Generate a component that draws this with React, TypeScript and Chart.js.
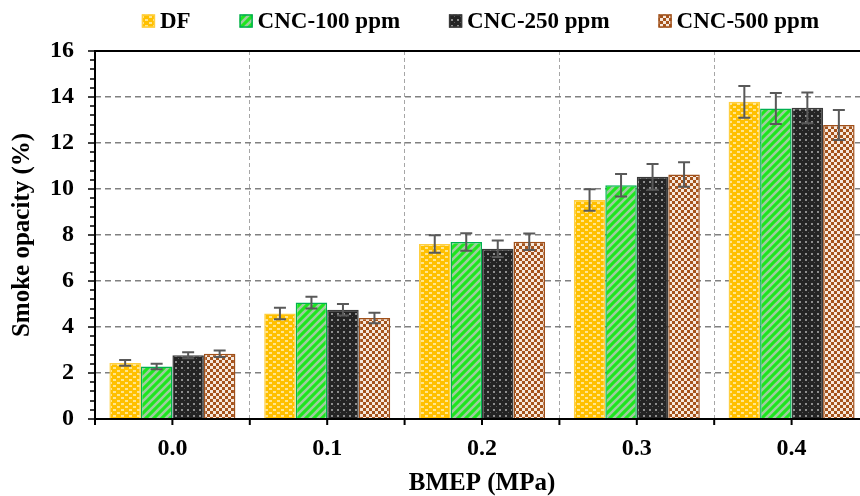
import React, { useEffect, useRef } from "react";
import { Chart, registerables } from "chart.js";

Chart.register(...registerables);

// BMEP load points (MPa)
const categories = ["0.0", "0.1", "0.2", "0.3", "0.4"];
const seriesNames = ["DF", "CNC-100 ppm", "CNC-250 ppm", "CNC-500 ppm"];

// Smoke opacity (%) and its spread for each fuel blend
const dfValues = [2.44, 4.59, 7.61, 9.52, 13.79];
const dfErrors = [0.13, 0.25, 0.38, 0.47, 0.69];
const cnc100Values = [2.28, 5.06, 7.7, 10.16, 13.5];
const cnc100Errors = [0.12, 0.26, 0.38, 0.49, 0.67];
const cnc250Values = [2.77, 4.75, 7.4, 10.53, 13.53];
const cnc250Errors = [0.13, 0.25, 0.36, 0.56, 0.67];
const cnc500Values = [2.84, 4.39, 7.71, 10.63, 12.78];
const cnc500Errors = [0.14, 0.23, 0.36, 0.53, 0.65];

const yMin = 0;
const yMax = 16;
const yStep = 2;
const yMinorStep = 0.4;

const FONT = '"Liberation Serif", "Times New Roman", serif';

type PatternKind = "dots" | "stripes" | "grid" | "checker";

function makePattern(kind: PatternKind): CanvasPattern | string {
  const c = document.createElement("canvas");
  const g = c.getContext("2d");
  if (!g) return "#888";
  if (kind === "dots") {
    c.width = 8;
    c.height = 6;
    g.fillStyle = "#FFC000";
    g.fillRect(0, 0, 8, 6);
    g.fillStyle = "#FFE58F";
    g.fillRect(1, 1, 3, 2);
    g.fillRect(5, 4, 3, 2);
  } else if (kind === "stripes") {
    c.width = 8;
    c.height = 8;
    g.fillStyle = "#1EE61E";
    g.fillRect(0, 0, 8, 8);
    g.strokeStyle = "#9FCC9F";
    g.lineWidth = 2.6;
    g.beginPath();
    g.moveTo(-2, 10);
    g.lineTo(10, -2);
    g.moveTo(-6, 6);
    g.lineTo(6, -6);
    g.moveTo(2, 14);
    g.lineTo(14, 2);
    g.stroke();
  } else if (kind === "grid") {
    c.width = 6;
    c.height = 6;
    g.fillStyle = "#242424";
    g.fillRect(0, 0, 6, 6);
    g.fillStyle = "#8E8E8E";
    g.fillRect(1, 1, 2, 2);
    g.fillStyle = "#5A5A5A";
    g.fillRect(4, 4, 1, 1);
  } else {
    c.width = 6;
    c.height = 6;
    g.fillStyle = "#A5531C";
    g.fillRect(0, 0, 6, 6);
    g.fillStyle = "#F6E8DC";
    g.fillRect(0, 0, 3, 3);
    g.fillRect(3, 3, 3, 3);
  }
  return g.createPattern(c, "repeat") || "#888";
}

const seriesValues = [dfValues, cnc100Values, cnc250Values, cnc500Values];
const seriesErrors = [dfErrors, cnc100Errors, cnc250Errors, cnc500Errors];
const seriesPatterns: PatternKind[] = ["dots", "stripes", "grid", "checker"];
const seriesBorders = ["#FFCF40", "#00B050", "#3A3A3A", "#A0501A"];

export default function App() {
  const canvasRef = useRef<HTMLCanvasElement | null>(null);

  useEffect(() => {
    const canvas = canvasRef.current;
    if (!canvas) return;

    const fills = seriesPatterns.map((k) => makePattern(k));

    const decor = {
      id: "decor",
      afterDatasetsDraw(chart: any) {
        const { ctx, chartArea: a, scales } = chart;
        const x = scales.x;
        const y = scales.y;
        ctx.save();

        // error bars
        ctx.strokeStyle = "#595959";
        ctx.lineWidth = 2;
        chart.data.datasets.forEach((ds: any, di: number) => {
          const meta = chart.getDatasetMeta(di);
          meta.data.forEach((bar: any, i: number) => {
            const v = ds.data[i];
            const e = seriesErrors[di][i];
            const yt = y.getPixelForValue(v + e);
            const yb = y.getPixelForValue(v - e);
            const cx = bar.x;
            ctx.beginPath();
            ctx.moveTo(cx, yt);
            ctx.lineTo(cx, yb);
            ctx.moveTo(cx - 6, yt);
            ctx.lineTo(cx + 6, yt);
            ctx.moveTo(cx - 6, yb);
            ctx.lineTo(cx + 6, yb);
            ctx.stroke();
          });
        });

        // axis lines and top frame
        ctx.strokeStyle = "#000";
        ctx.lineWidth = 2;
        ctx.beginPath();
        ctx.moveTo(a.left, a.top);
        ctx.lineTo(a.right, a.top);
        ctx.moveTo(a.left, a.top - 1);
        ctx.lineTo(a.left, a.bottom + 1);
        ctx.moveTo(a.left - 1, a.bottom);
        ctx.lineTo(a.right, a.bottom);
        ctx.stroke();

        // y ticks, major and minor, pointing outward
        const nMinor = Math.round((yMax - yMin) / yMinorStep);
        const perMajor = Math.round(yStep / yMinorStep);
        ctx.lineWidth = 1.5;
        ctx.beginPath();
        for (let i = 0; i <= nMinor; i++) {
          const py = Math.round(y.getPixelForValue(yMin + i * yMinorStep));
          const len = i % perMajor === 0 ? 7 : 5;
          ctx.moveTo(a.left - len, py);
          ctx.lineTo(a.left, py);
        }
        ctx.stroke();

        // x ticks at category centres and boundaries
        ctx.lineWidth = 2;
        ctx.beginPath();
        const n = categories.length;
        const w = (a.right - a.left) / n;
        for (let i = 0; i <= n; i++) {
          const bx = a.left + i * w;
          ctx.moveTo(bx, a.bottom);
          ctx.lineTo(bx, a.bottom + 6);
        }
        for (let i = 0; i < n; i++) {
          const cx = x.getPixelForValue(i);
          ctx.moveTo(cx, a.bottom);
          ctx.lineTo(cx, a.bottom + 6);
        }
        ctx.stroke();
        ctx.restore();
      },
      afterDraw(chart: any) {
        const { ctx } = chart;
        ctx.save();
        ctx.font = `bold 23px ${FONT}`;
        ctx.textBaseline = "middle";
        const box = 13;
        const gap = 5;
        const spacing = 49;
        const widths = seriesNames.map((s) => ctx.measureText(s).width);
        const total =
          widths.reduce((s: number, wd: number) => s + box + gap + wd, 0) +
          spacing * (seriesNames.length - 1);
        let px = 480.5 - total / 2;
        const cy = 21;
        seriesNames.forEach((name, i) => {
          ctx.fillStyle = fills[i] as any;
          ctx.fillRect(px, cy - box / 2, box, box);
          ctx.strokeStyle = seriesBorders[i];
          ctx.lineWidth = 1.5;
          ctx.strokeRect(px + 0.5, cy - box / 2 + 0.5, box - 1, box - 1);
          ctx.fillStyle = "#000";
          ctx.fillText(name, px + box + gap, cy + 1);
          px += box + gap + widths[i] + spacing;
        });
        ctx.restore();
      },
    };

    const chart = new Chart(canvas, {
      type: "bar",
      data: {
        labels: categories,
        datasets: seriesNames.map((name, i) => ({
          label: name,
          data: seriesValues[i],
          backgroundColor: fills[i] as any,
          borderColor: seriesBorders[i],
          borderWidth: 1.5,
          categoryPercentage: 0.814,
          barPercentage: 1,
        })),
      },
      options: {
        responsive: false,
        animation: false,
        devicePixelRatio: 1,
        layout: { padding: { top: 51, right: 31, left: 0, bottom: 0 } },
        plugins: {
          legend: { display: false },
          tooltip: { enabled: false },
        },
        scales: {
          x: {
            offset: true,
            grid: {
              offset: true,
              color: "#A6A6A6",
              lineWidth: 1,
              drawTicks: false,
            },
            border: { display: false, dash: [4, 3] },
            ticks: {
              color: "#000",
              padding: 15,
              font: { family: FONT, size: 24, weight: "bold" },
            },
            title: {
              display: true,
              text: "BMEP (MPa)",
              color: "#000",
              font: { family: FONT, size: 25, weight: "bold", lineHeight: 1 },
              padding: { top: 0, bottom: 0 },
            },
            afterFit(scale: any) {
              scale.height = 77;
            },
          },
          y: {
            min: yMin,
            max: yMax,
            ticks: {
              stepSize: yStep,
              color: "#000",
              padding: 21,
              font: { family: FONT, size: 24, weight: "bold" },
            },
            grid: {
              color: (c: any) =>
                c.tick && (c.tick.value === yMin || c.tick.value === yMax)
                  ? "rgba(0,0,0,0)"
                  : "#808080",
              lineWidth: 1.6,
              drawTicks: false,
            },
            border: { display: false, dash: [6, 4] },
            title: {
              display: true,
              text: "Smoke opacity (%)",
              color: "#000",
              font: { family: FONT, size: 25, weight: "bold", lineHeight: 1 },
              padding: { top: 10, bottom: 0 },
            },
            afterFit(scale: any) {
              scale.width = 95;
            },
          },
        },
      },
      plugins: [decor],
    });

    return () => chart.destroy();
  }, []);

  return (
    <div
      style={{
        position: "fixed",
        left: 0,
        top: 0,
        width: 860,
        height: 496,
        overflow: "hidden",
        background: "#fff",
      }}
    >
      <canvas ref={canvasRef} width={900} height={496} style={{ display: "block" }} />
    </div>
  );
}
